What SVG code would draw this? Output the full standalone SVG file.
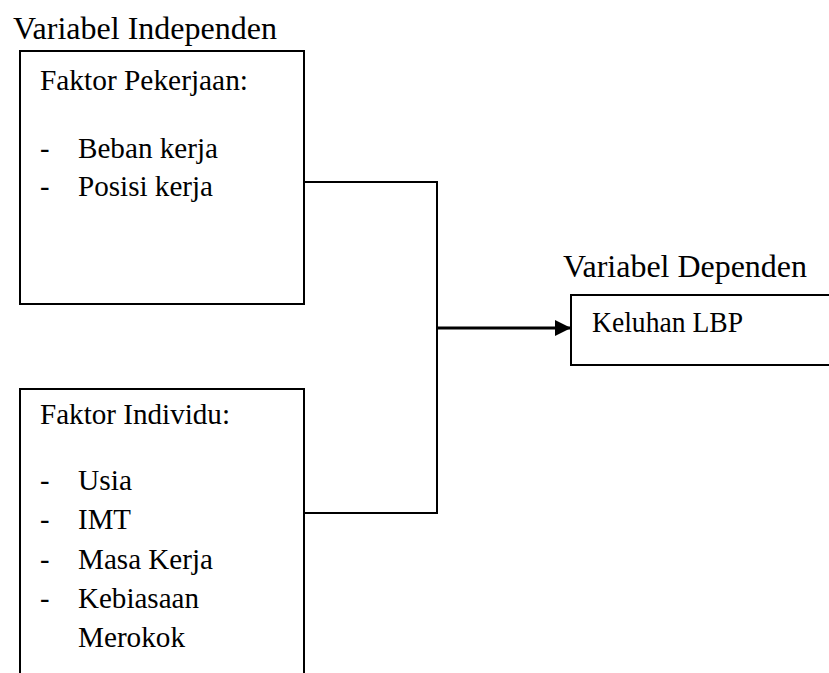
<svg xmlns="http://www.w3.org/2000/svg" width="829" height="673" viewBox="0 0 829 673">
<defs>
<style>
text{font-family:"Liberation Serif","Times New Roman",serif;font-size:28.5px;fill:#000}
text.t{font-size:31px}
.box{fill:#fff;stroke:#000;stroke-width:2}
.con{fill:none;stroke:#000;stroke-width:2}
.arr{fill:none;stroke:#000;stroke-width:3}
</style>
<marker id="ah" viewBox="0 0 10 10" refX="10" refY="5" markerWidth="5.5" markerHeight="5.5" markerUnits="strokeWidth" orient="auto">
<path d="M0,0 L10,5 L0,10 z" fill="#000"/>
</marker>
</defs>
<rect width="829" height="673" fill="#fff"/>
<text class="t" x="13" y="39" textLength="264" lengthAdjust="spacingAndGlyphs">Variabel Independen</text>
<text class="t" x="563" y="277" textLength="244" lengthAdjust="spacingAndGlyphs">Variabel Dependen</text>
<g id="node-pekerjaan">
<rect class="box" x="20" y="51" width="284" height="253"/>
<text x="40" y="90" textLength="208" lengthAdjust="spacingAndGlyphs">Faktor Pekerjaan:</text>
<text x="40" y="158">-</text><text x="78" y="158" textLength="140" lengthAdjust="spacingAndGlyphs">Beban kerja</text>
<text x="40" y="196">-</text><text x="78" y="196" textLength="135" lengthAdjust="spacingAndGlyphs">Posisi kerja</text>
</g>
<g id="node-individu">
<rect class="box" x="20" y="389" width="284" height="300"/>
<text x="40" y="424" textLength="190" lengthAdjust="spacingAndGlyphs">Faktor Individu:</text>
<text x="40" y="490">-</text><text x="78" y="490" textLength="54" lengthAdjust="spacingAndGlyphs">Usia</text>
<text x="40" y="529">-</text><text x="78" y="529" textLength="53" lengthAdjust="spacingAndGlyphs">IMT</text>
<text x="40" y="569">-</text><text x="78" y="569" textLength="135" lengthAdjust="spacingAndGlyphs">Masa Kerja</text>
<text x="40" y="608">-</text><text x="78" y="608" textLength="121" lengthAdjust="spacingAndGlyphs">Kebiasaan</text>
<text x="78" y="647" textLength="107" lengthAdjust="spacingAndGlyphs">Merokok</text>
</g>
<g id="node-lbp">
<rect class="box" x="571" y="295" width="270" height="70"/>
<text x="592" y="332" textLength="151" lengthAdjust="spacingAndGlyphs">Keluhan LBP</text>
</g>
<g id="connectors">
<polyline class="con" points="304,182 437,182 437,513 304,513"/>
<line class="arr" x1="437" y1="328" x2="571" y2="328" marker-end="url(#ah)"/>
</g>
</svg>
